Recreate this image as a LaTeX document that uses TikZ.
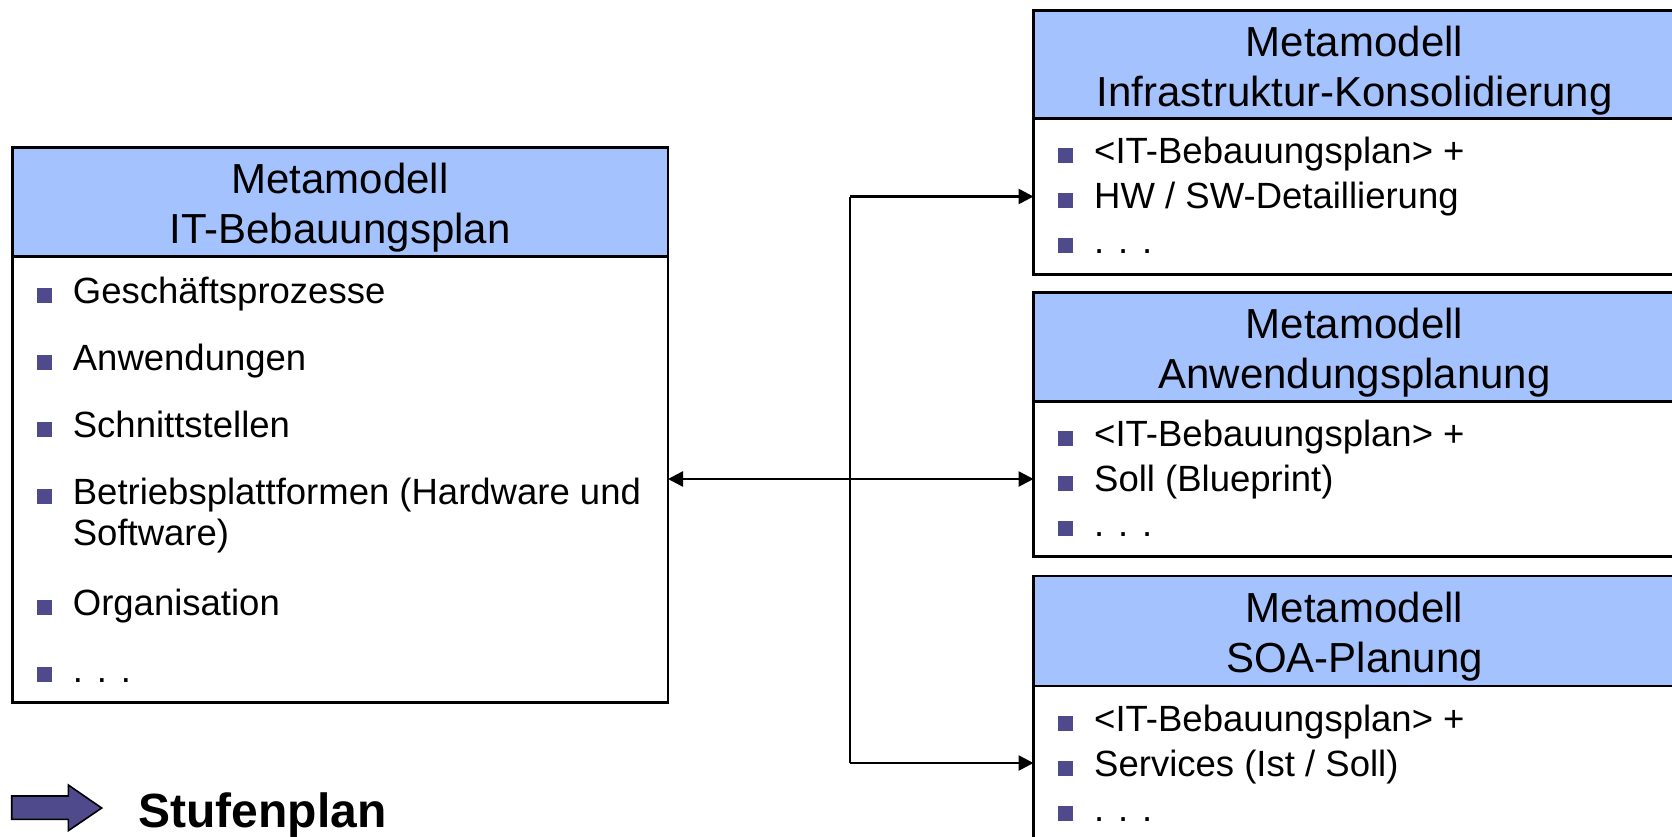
\documentclass[tikz,border=0pt]{standalone}
\usepackage{fontspec}
\setmainfont{Liberation Sans}
\usetikzlibrary{arrows.meta}
\definecolor{headblue}{HTML}{A4C2FE}
\definecolor{bulletviolet}{HTML}{4E4A8B}
\newcommand{\moredots}{.\ \kern3.7pt.\ \kern3.7pt.}

\begin{document}
\begin{tikzpicture}[x=1pt,y=-1pt,
  boxline/.style={draw=black,line width=2.6pt,inner sep=0pt,outer sep=0pt,anchor=north west},
  headbox/.style={boxline,fill=headblue},
  bodybox/.style={boxline,fill=white},
  headtext/.style={anchor=base,inner sep=0pt,font=\fontsize{42}{50}\selectfont},
  itemtext/.style={anchor=base west,inner sep=0pt,font=\fontsize{36.5}{42}\selectfont},
  sqbullet/.style={fill=bulletviolet,minimum size=15pt,inner sep=0pt,outer sep=0pt},
  link/.style={line width=2.6pt,line join=miter,-{Triangle[length=15pt,width=15pt]}}]

\useasboundingbox (0,0) rectangle (1672,836);
\clip (0,0) rectangle (1672,836);

% ---- left box: IT-Bebauungsplan ----
\node[bodybox,minimum width=655.3pt,minimum height=445.6pt] (Lbody) at (12.7,256.7) {};
\node[headbox,minimum width=655.3pt,minimum height=109.4pt] (Lhead) at (12.7,147.3) {};
\node[headtext] (Lt1) at (340,193.3) {Metamodell};
\node[headtext] (Lt2) at (340,243.3) {IT-Bebauungsplan};

\foreach \y/\txt [count=\i] in {303/Geschäftsprozesse,370/Anwendungen,437/Schnittstellen,
    504/Betriebsplattformen (Hardware und,615/Organisation,682/\moredots}{
  \node[sqbullet] (Lb\i) at (44,\y-8) {};
  \node[itemtext] (Li\i) at (72.7,\y) {\txt};
}
\node[itemtext] (Li4b) at (72.7,545.6) {Software)};

% ---- right boxes ----
\node[bodybox,minimum width=642pt,minimum height=156pt] (R1body) at (1033.5,118.5) {};
\node[headbox,minimum width=642pt,minimum height=108pt] (R1head) at (1033.5,10.5) {};
\node[headtext] (R1t1) at (1354.5,56.5) {Metamodell};
\node[headtext] (R1t2) at (1354.5,106.5) {Infrastruktur-Konsolidierung};

\node[bodybox,minimum width=642pt,minimum height=154.6pt] (R2body) at (1033.5,401.7) {};
\node[headbox,minimum width=642pt,minimum height=109pt] (R2head) at (1033.5,292.7) {};
\node[headtext] (R2t1) at (1354.5,338.7) {Metamodell};
\node[headtext] (R2t2) at (1354.5,388.7) {Anwendungsplanung};

\node[bodybox,minimum width=642pt,minimum height=154pt] (R3body) at (1033.5,686) {};
\node[headbox,minimum width=642pt,minimum height=110pt] (R3head) at (1033.5,576) {};
\node[headtext] (R3t1) at (1354.5,622) {Metamodell};
\node[headtext] (R3t2) at (1354.5,672) {SOA-Planung};

\foreach \top/\k/\second in {118.5/1/{HW / SW-Detaillierung},401.7/2/{Soll (Blueprint)},686/3/{Services (Ist / Soll)}}{
  \node[sqbullet] (R\k b1) at (1065,\top+45-8) {};
  \node[itemtext] (R\k i1) at (1094,\top+45) {<IT-Bebauungsplan> +};
  \node[sqbullet] (R\k b2) at (1065,\top+90-8) {};
  \node[itemtext] (R\k i2) at (1094,\top+90) {\second};
  \node[sqbullet] (R\k b3) at (1065,\top+135-8) {};
  \node[itemtext] (R\k i3) at (1094,\top+135) {\moredots};
}

% ---- connectors ----
\coordinate (J) at (850,479);
\draw[line width=2.6pt] (J |- R1body.west) -- (J |- R3body.west);
\draw[link] (J) -- (Lbody.east |- J);
\draw[link] (J) -- (R2body.west);
\draw[link] (J |- R1body.west) -- (R1body.west);
\draw[link] (J |- R3body.west) -- (R3body.west);

% ---- Stufenplan ----
\draw[fill=bulletviolet,line width=1.6pt,line join=miter]
  (11.7,796) -- (68.3,796) -- (68.3,785) -- (101.7,808) -- (68.3,830.7)
  -- (68.3,819.3) -- (11.7,819.3) -- cycle;
\node[anchor=base west,inner sep=0pt,font=\fontsize{48}{56}\selectfont\bfseries] (stufen) at (138.3,827.3) {Stufenplan};
\end{tikzpicture}
\end{document}
